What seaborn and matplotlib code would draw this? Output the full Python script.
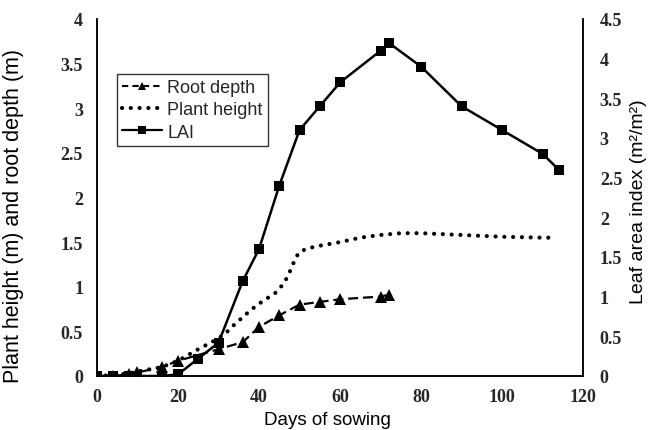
import matplotlib
matplotlib.use("Agg")
import matplotlib.pyplot as plt
import seaborn as sns
import pandas as pd
from matplotlib.ticker import FuncFormatter
from matplotlib.lines import Line2D

# Root depth (m)
root_days = [0, 4, 8, 10, 16, 20, 30, 36, 40, 45, 50, 55, 60, 70, 72]
root_depth = [0, 0, 0.02, 0.04, 0.10, 0.17, 0.30, 0.38, 0.55, 0.68, 0.80, 0.83, 0.86, 0.89, 0.91]

# Plant height (m)
height_days = [0, 4, 8, 10, 16, 20, 25, 30, 32, 34, 36, 38, 40, 42, 44, 46, 47, 48, 49, 50,
               52, 55, 60, 65, 70, 75, 80, 90, 100, 110, 112]
plant_height = [0, 0.01, 0.03, 0.05, 0.10, 0.17, 0.30, 0.42, 0.49, 0.58, 0.66, 0.74, 0.81, 0.87,
                0.93, 1.03, 1.11, 1.21, 1.32, 1.39, 1.43, 1.46, 1.50, 1.55, 1.58, 1.60, 1.60,
                1.58, 1.56, 1.55, 1.55]

# Leaf area index (m2/m2)
lai_days = [0, 4, 8, 10, 16, 20, 25, 30, 36, 40, 45, 50, 55, 60, 70, 72, 80, 90, 100, 110, 114]
lai = [0, 0, 0, 0, 0, 0.02, 0.22, 0.42, 1.2, 1.6, 2.4, 3.1, 3.4, 3.7, 4.1, 4.2, 3.9, 3.4, 3.1, 2.8, 2.6]

left_ticks = [0, 0.5, 1, 1.5, 2, 2.5, 3, 3.5, 4]
right_ticks = [0, 0.5, 1, 1.5, 2, 2.5, 3, 3.5, 4, 4.5]
x_ticks = [0, 20, 40, 60, 80, 100, 120]

sns.set_theme(style="white")
plt.rcParams["font.family"] = ["Liberation Sans", "DejaVu Sans"]

fig = plt.figure(figsize=(6.53, 4.31), dpi=100)
ax = fig.add_axes([0.1485, 0.1253, 0.893 - 0.1485, 0.9536 - 0.1253])
ax2 = ax.twinx()

root_df = pd.DataFrame({"day": root_days, "value": root_depth})
height_df = pd.DataFrame({"day": height_days, "value": plant_height})
lai_df = pd.DataFrame({"day": lai_days, "value": lai})

sns.lineplot(data=root_df, x="day", y="value", ax=ax, color="black", linewidth=1.6,
             linestyle=(0, (4.5, 2.2)), marker="^", markersize=8, markeredgewidth=0,
             estimator=None, sort=False)
sns.lineplot(data=height_df, x="day", y="value", ax=ax, color="black", linewidth=3.0,
             linestyle=(0, (0.01, 2.1)), dash_capstyle="round",
             estimator=None, sort=False)
sns.lineplot(data=lai_df, x="day", y="value", ax=ax2, color="black", linewidth=1.8,
             marker="s", markersize=7, markeredgewidth=0,
             estimator=None, sort=False)

ax.set_xlim(0, 120)
ax.set_ylim(0, 4)
ax2.set_ylim(0, 4.5)
ax.set_xticks(x_ticks)
ax.set_yticks(left_ticks)
ax2.set_yticks(right_ticks)

fmt = FuncFormatter(lambda v, p: f"{v:g}")
ax.yaxis.set_major_formatter(fmt)
ax2.yaxis.set_major_formatter(fmt)

tick_font = dict(family=["Liberation Serif", "DejaVu Serif"], weight="bold", size=13)
for a in (ax, ax2):
    a.tick_params(axis="both", length=0, pad=7)
    for lbl in a.get_xticklabels() + a.get_yticklabels():
        lbl.set_fontproperties(tick_font)
    a.grid(False)
    a.spines["top"].set_visible(False)
    for s in ("left", "right", "bottom"):
        a.spines[s].set_color("black")
        a.spines[s].set_linewidth(1.1)
ax.tick_params(axis="x", pad=9)
ax.tick_params(axis="y", pad=10)
ax2.tick_params(axis="y", pad=12)

ax.set_xlabel("Days of sowing", fontsize=13.5, color="black")
ax.xaxis.set_label_coords(0.475, -0.098)
ax.set_ylabel("Plant height (m) and root depth (m)", fontsize=15.5, color="black")
ax.yaxis.set_label_coords(-0.15, 0.45)
ax2.set_ylabel("Leaf area index (m²/m²)", fontsize=14, color="black")
ax2.yaxis.set_label_coords(1.097, 0.49)

handles = [
    Line2D([], [], color="black", linewidth=1.5, linestyle=(0, (3, 2)),
           marker="^", markersize=6, markeredgewidth=0),
    Line2D([], [], color="black", linewidth=3.0, linestyle=(0, (0.01, 2.1)),
           dash_capstyle="round"),
    Line2D([], [], color="black", linewidth=1.6, marker="s", markersize=6, markeredgewidth=0),
]
leg = ax2.legend(handles, ["Root depth", "Plant height", "LAI"], loc="upper left",
                 bbox_to_anchor=(0.041, 0.846), fontsize=13, frameon=True, fancybox=False,
                 edgecolor="black", handlelength=2.2, handletextpad=0.3,
                 borderpad=0.3, labelspacing=0.28, borderaxespad=0)
leg.get_frame().set_linewidth(1.0)

fig.savefig("out.png", dpi=100)
